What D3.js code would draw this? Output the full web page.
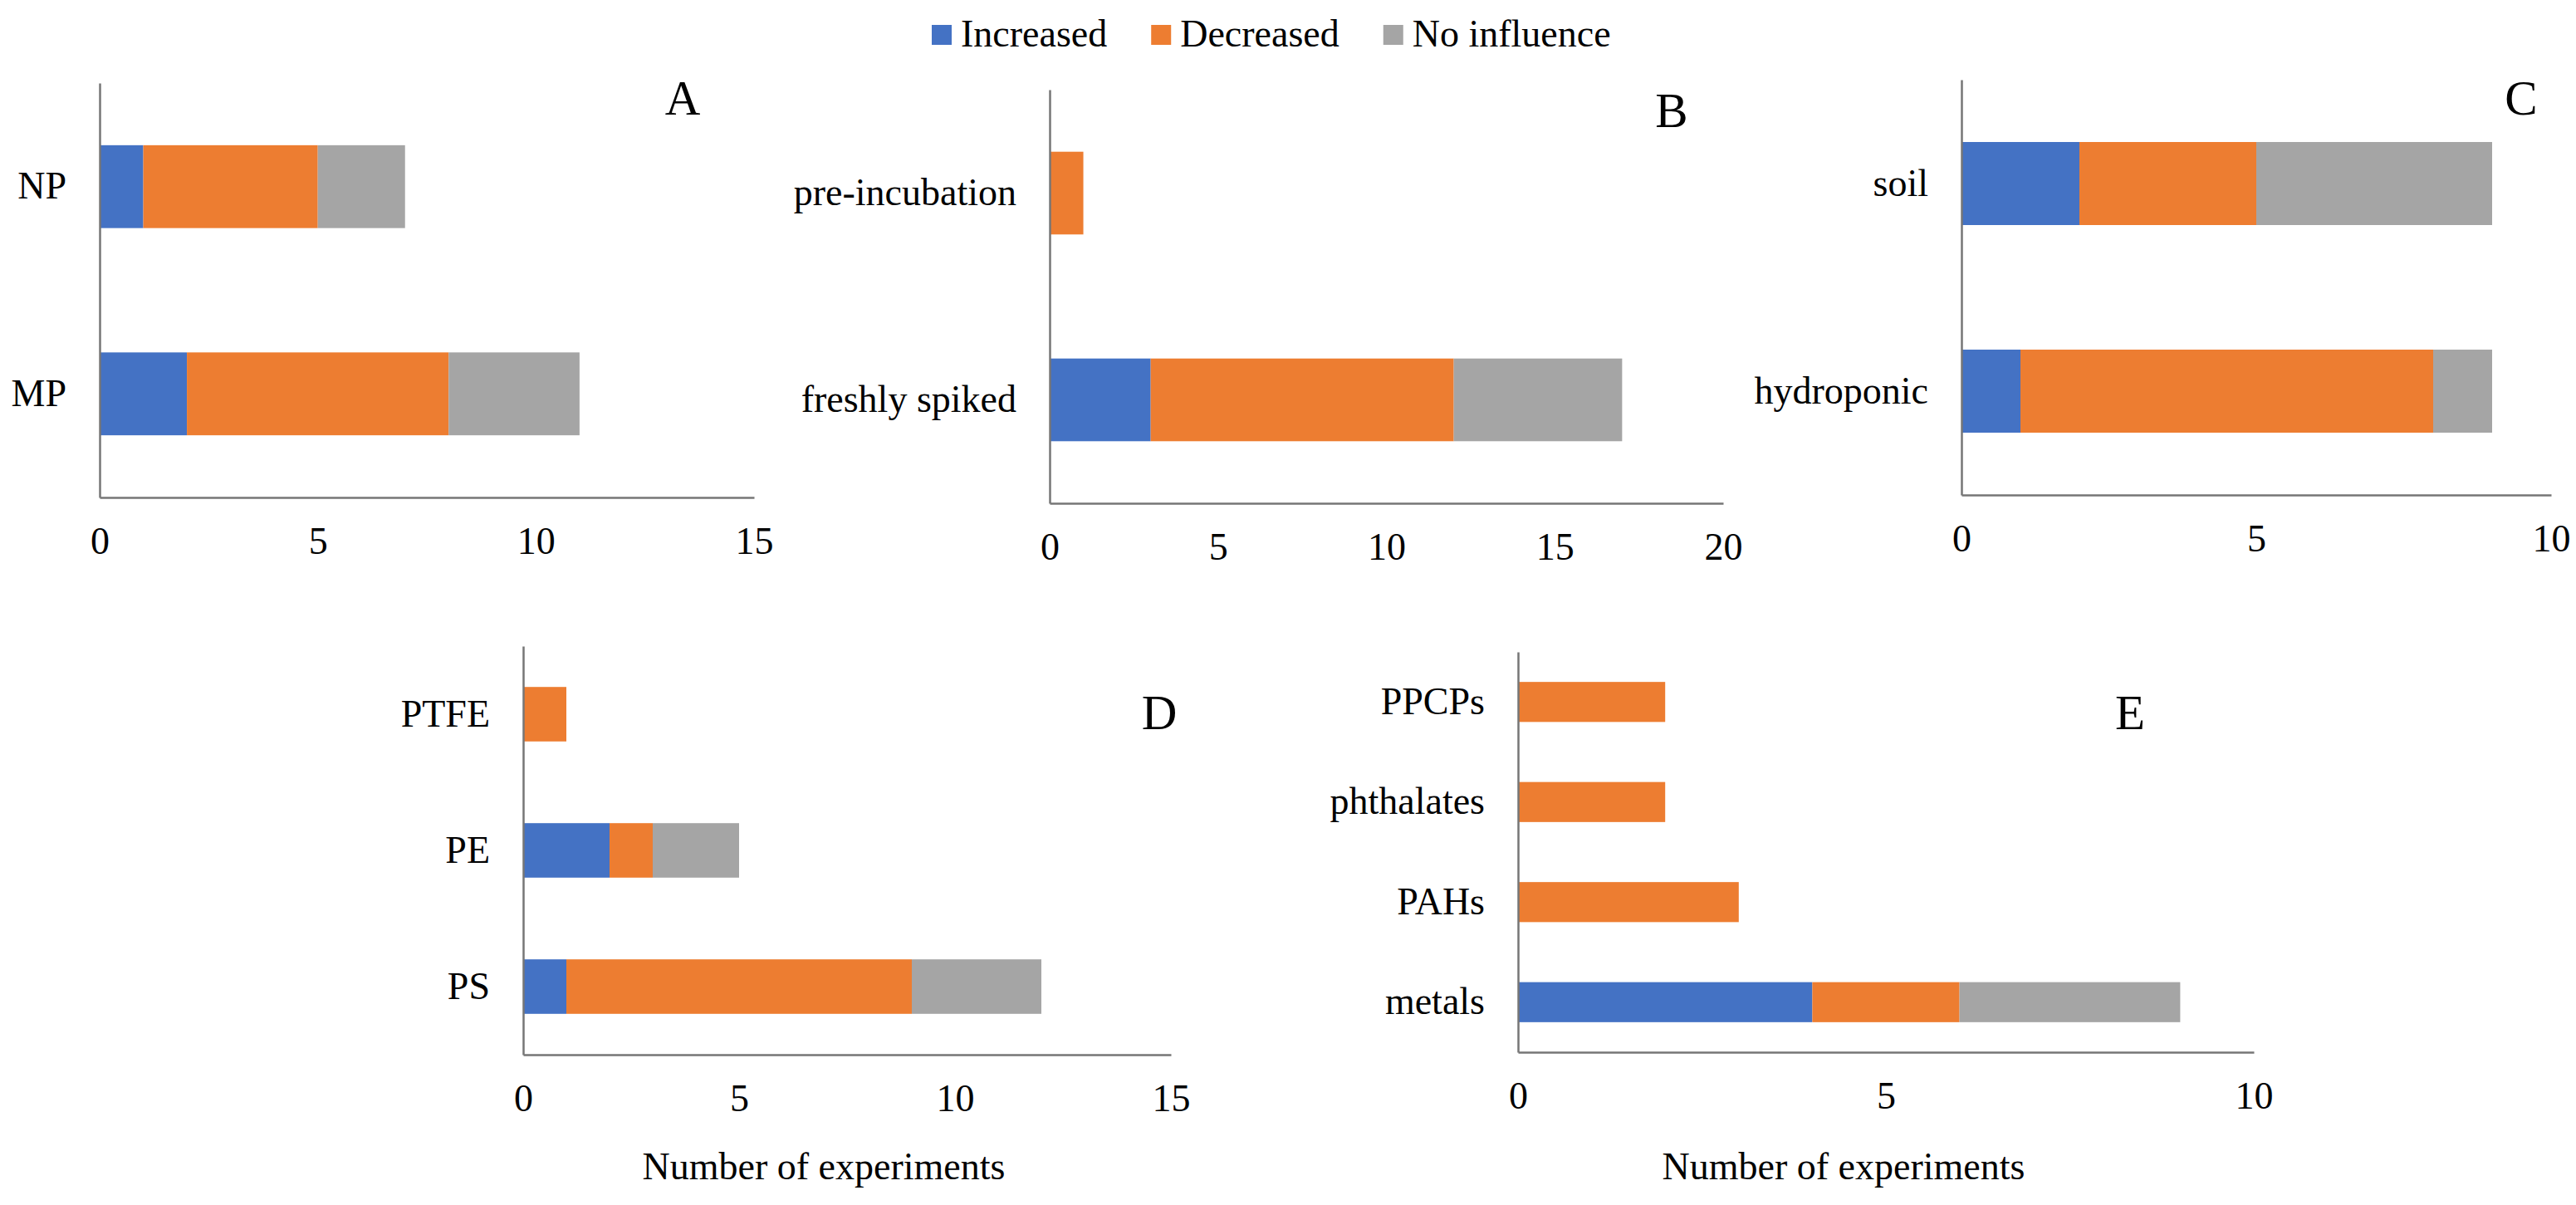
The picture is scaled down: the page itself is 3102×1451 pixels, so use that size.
<!DOCTYPE html>
<html>
<head>
<meta charset="utf-8">
<script src="https://cdn.jsdelivr.net/npm/d3@7"></script>
<style>
  body { margin: 0; background: #fff; }
  text { font-family: "Liberation Serif", "Times New Roman", serif; fill: #000; }
</style>
</head>
<body>
<svg id="chart"></svg>
<script>
const W = 3102, H = 1451;

// series
const seriesNames = ["Increased", "Decreased", "No influence"];
const seriesColors = ["#4472C4", "#ED7D31", "#A5A5A5"];

// panel A
const catsA = ["NP", "MP"];
const incA = [1, 2];
const decA = [4, 6];
const noA = [2, 3];
const ticksA = [0, 5, 10, 15];

// panel B
const catsB = ["pre-incubation", "freshly spiked"];
const incB = [0, 3];
const decB = [1, 9];
const noB = [0, 5];
const ticksB = [0, 5, 10, 15, 20];

// panel C
const catsC = ["soil", "hydroponic"];
const incC = [2, 1];
const decC = [3, 7];
const noC = [4, 1];
const ticksC = [0, 5, 10];

// panel D
const catsD = ["PTFE", "PE", "PS"];
const incD = [0, 2, 1];
const decD = [1, 1, 8];
const noD = [0, 2, 3];
const ticksD = [0, 5, 10, 15];

// panel E
const catsE = ["PPCPs", "phthalates", "PAHs", "metals"];
const incE = [0, 0, 0, 4];
const decE = [2, 2, 3, 2];
const noE = [0, 0, 0, 3];
const ticksE = [0, 5, 10];

const axisTitle = "Number of experiments";

const svg = d3.select("#chart").attr("width", W).attr("height", H);

// Draws one stacked bar panel
function drawPanel(p) {
    const x = d3.scaleLinear().domain([0, d3.max(p.ticks)]).range([p.x0, p.x1]);
    const y = d3.scaleBand().domain(p.cats).range([p.y0, p.y1])
        .paddingInner(0.6).paddingOuter(0.3);

    const rows = p.cats.map((c, i) => ({
        cat: c,
        "Increased": p.inc[i],
        "Decreased": p.dec[i],
        "No influence": p.no[i]
    }));
    const layers = d3.stack().keys(seriesNames)(rows);

    const g = svg.append("g");

    g.selectAll("g.layer")
        .data(layers)
        .enter().append("g")
        .attr("class", "layer")
        .attr("fill", (d, i) => seriesColors[i])
        .selectAll("rect")
        .data(d => d.filter(v => v[1] - v[0] > 0))
        .enter().append("rect")
        .attr("x", d => x(d[0]))
        .attr("width", d => x(d[1]) - x(d[0]))
        .attr("y", d => y(d.data.cat))
        .attr("height", y.bandwidth());

    // x axis
    const xa = g.append("g")
        .attr("transform", `translate(0,${p.y1})`)
        .call(d3.axisBottom(x).tickValues(p.ticks).tickSize(0).tickSizeOuter(0).tickPadding(35));
    xa.select(".domain").attr("stroke", "#767676").attr("stroke-width", 2.5);
    xa.selectAll("text").attr("font-size", 46).attr("fill", "#000");

    // y axis
    const ya = g.append("g")
        .attr("transform", `translate(${p.x0},0)`)
        .call(d3.axisLeft(y).tickSize(0).tickSizeOuter(0).tickPadding(40));
    ya.select(".domain").attr("stroke", "#767676").attr("stroke-width", 2.5);
    ya.selectAll("text").attr("font-size", 46).attr("fill", "#000");

    // panel letter
    g.append("text")
        .attr("x", p.lx).attr("y", p.ly)
        .attr("text-anchor", "middle")
        .attr("font-size", 59)
        .text(p.letter);

    if (p.title) {
        g.append("text")
            .attr("x", p.tx).attr("y", 1420)
            .attr("text-anchor", "middle")
            .attr("font-size", 46)
            .text(axisTitle);
    }
}

drawPanel({ cats: catsA, inc: incA, dec: decA, no: noA, ticks: ticksA,
    x0: 120, x1: 908, y0: 100, y1: 599, letter: "A", lx: 822, ly: 138 });
drawPanel({ cats: catsB, inc: incB, dec: decB, no: noB, ticks: ticksB,
    x0: 1264, x1: 2075, y0: 108, y1: 606, letter: "B", lx: 2013, ly: 153 });
drawPanel({ cats: catsC, inc: incC, dec: decC, no: noC, ticks: ticksC,
    x0: 2362, x1: 3072, y0: 96, y1: 596, letter: "C", lx: 3036, ly: 138 });
drawPanel({ cats: catsD, inc: incD, dec: decD, no: noD, ticks: ticksD,
    x0: 630, x1: 1410, y0: 778, y1: 1270, letter: "D", lx: 1396, ly: 878, title: true, tx: 992 });
drawPanel({ cats: catsE, inc: incE, dec: decE, no: noE, ticks: ticksE,
    x0: 1828, x1: 2714, y0: 785, y1: 1267, letter: "E", lx: 2565, ly: 878, title: true, tx: 2220 });

// legend
const legend = svg.append("g").attr("transform", "translate(1122,0)");
let lx = 0;
seriesNames.forEach((name, i) => {
    legend.append("rect")
        .attr("x", lx).attr("y", 30)
        .attr("width", 24).attr("height", 24)
        .attr("fill", seriesColors[i]);
    const t = legend.append("text")
        .attr("x", lx + 35).attr("y", 56)
        .attr("font-size", 46)
        .text(name);
    lx += 35 + t.node().getComputedTextLength() + 53;
});
</script>
</body>
</html>
